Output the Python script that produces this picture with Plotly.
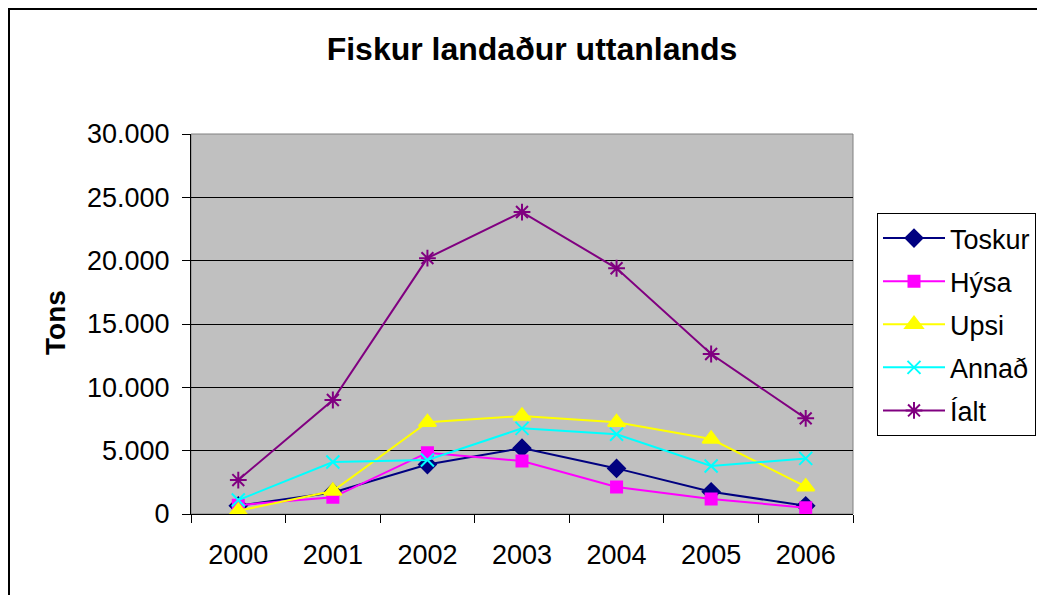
import plotly.graph_objects as go

years = ["2000", "2001", "2002", "2003", "2004", "2005", "2006"]
toskur = [650, 1700, 3900, 5200, 3600, 1750, 650]
hysa = [700, 1320, 4840, 4180, 2130, 1180, 500]
upsi = [250, 1820, 7240, 7740, 7240, 5920, 2160]
annad = [1100, 4100, 4260, 6760, 6290, 3790, 4390]
ialt = [2680, 9000, 20200, 23840, 19400, 12630, 7550]

series = [
    ("Toskur", toskur, "#000080", "diamond", 13),
    ("Hýsa", hysa, "#FF00FF", "square", 11),
    ("Upsi", upsi, "#FFFF00", "triangle-up", 15),
    ("Annað", annad, "#00FFFF", "x-thin-open", 13),
    ("Íalt", ialt, "#800080", "asterisk-open", 14),
]

fig = go.Figure()
for i, (name, vals, col, sym, sz) in enumerate(series):
    fig.add_trace(go.Scatter(
        x=years, y=vals, name=name, mode="lines+markers",
        line=dict(color=col, width=2),
        marker=dict(symbol=sym, size=sz, color=col, line=dict(color=col, width=2)),
        legendgroup=f"g{i}",
    ))

# page body adds an 8px offset; compensate
OFF = 8
L, T = 191 - OFF, 134 - OFF
pw, ph = 662, 380
R = 1045 - L - pw
B = 595 - T - ph

def px(x):
    return (x - OFF - L) / pw

def py(y):
    return (T + ph - (y - OFF)) / ph

fig.update_layout(
    width=1045, height=595,
    margin=dict(l=L, r=R, t=T, b=B),
    paper_bgcolor="white", plot_bgcolor="#C0C0C0",
    separators=",.",
    font=dict(family="Liberation Sans, Arial, sans-serif", color="black", size=27),
    title=dict(text="<b>Fiskur landaður uttanlands</b>", x=(532 - OFF)/1045, xanchor="center",
               y=1 - (49 - OFF)/595, yanchor="middle", font=dict(size=32, color="black")),
    showlegend=True,
    legend=dict(x=px(877), y=py(213), xanchor="left", yanchor="top",
                bgcolor="white", bordercolor="black", borderwidth=1,
                font=dict(size=27), tracegroupgap=5, itemwidth=62),
    xaxis=dict(type="category", tickson="boundaries", ticks="outside", ticklen=8,
               tickcolor="black", showline=True, linecolor="black", linewidth=1,
               showgrid=False, tickfont=dict(size=27), range=[-0.5, 6.5],
               ticklabelstandoff=17),
    yaxis=dict(range=[0, 30000], dtick=5000, tickformat=",d", ticks="outside", ticklen=8,
               tickcolor="black", showline=True, linecolor="black", linewidth=1,
               showgrid=True, gridcolor="black", gridwidth=1, zeroline=False,
               tickfont=dict(size=27), ticklabelstandoff=7),
    annotations=[dict(text="<b>Tons</b>", xref="paper", yref="paper",
                      x=px(55), y=py(323), textangle=-90, showarrow=False,
                      font=dict(size=28, color="black"), xanchor="center", yanchor="middle")],
    shapes=[
        dict(type="rect", xref="paper", yref="paper", x0=0, x1=1, y0=0, y1=1,
             line=dict(color="#808080", width=1), layer="below"),
        dict(type="rect", xref="paper", yref="paper", x0=px(9), x1=px(1200),
             y0=py(700), y1=py(9), line=dict(color="black", width=2)),
    ],
)

fig.write_html("out.html")
